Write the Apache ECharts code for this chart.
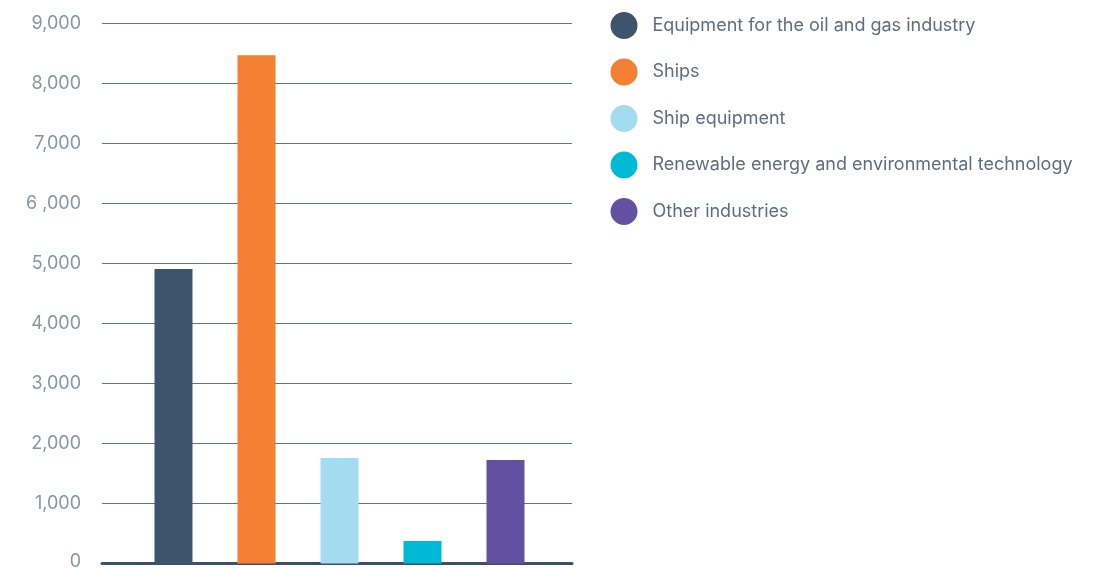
<!DOCTYPE html>
<html>
<head>
<meta charset="utf-8">
<script src="https://cdn.jsdelivr.net/npm/echarts@6/dist/echarts.min.js"></script>
<style>
  html, body { margin: 0; padding: 0; background: #fff; }
  #chart { width: 1103px; height: 568px; }
</style>
</head>
<body>
<div id="chart"></div>
<script>
const categories = [
  'Equipment for the oil and gas industry',
  'Ships',
  'Ship equipment',
  'Renewable energy and environmental technology',
  'Other industries'
];
const values = [4910, 8470, 1760, 375, 1725];
const colors = ['#3e546c', '#f58033', '#a3dbf0', '#00b9d4', '#6450a1'];
const yTicks = [0, 1000, 2000, 3000, 4000, 5000, 6000, 7000, 8000, 9000];
const yTickLabels = ['0', '1,000', '2,000', '3,000', '4,000', '5,000', '6 ,000', '7,000', '8,000', '9,000'];

const FONT = 'Inter';
const chart = echarts.init(document.getElementById('chart'));

// one series per category so that each gets its own legend entry
const series = categories.map((name, i) => ({
  name,
  type: 'bar',
  xAxisIndex: 1,
  yAxisIndex: 1,
  stack: 'all',
  barWidth: 38,
  itemStyle: { color: colors[i] },
  data: categories.map((c, j) => (j === i ? values[i] : '-'))
}));

chart.setOption({
  animation: false,
  color: colors,
  // grid 0 carries the labels, gridlines and base line; grid 1 places the bars
  grid: [
    { left: 102, width: 470, top: 23.5, bottom: 4.5, containLabel: false, outerBoundsMode: 'none' },
    { left: 132, width: 415, top: 23.5, bottom: 4.5, containLabel: false, outerBoundsMode: 'none' }
  ],
  legend: {
    orient: 'vertical',
    left: 605.5,
    top: 7,
    icon: 'circle',
    itemWidth: 27,
    itemHeight: 27,
    itemGap: 19.5,
    data: categories,
    textStyle: {
      fontFamily: FONT,
      fontSize: 18,
      color: '#5d6e82',
      padding: [0, 0, 0, 10]
    }
  },
  xAxis: [
    {
      gridIndex: 0,
      type: 'category',
      data: [''],
      axisLine: { show: true, lineStyle: { color: '#3e5068', width: 3 } },
      axisTick: { show: false },
      axisLabel: { show: false }
    },
    {
      gridIndex: 1,
      type: 'category',
      data: categories,
      axisLine: { show: false },
      axisTick: { show: false },
      axisLabel: { show: false }
    }
  ],
  yAxis: [
    {
      gridIndex: 0,
      type: 'value',
      min: 0,
      max: 9000,
      interval: 1000,
      axisLine: { show: false },
      axisTick: { show: false },
      splitLine: { lineStyle: { color: '#66737f', width: 1 } },
      axisLabel: {
        margin: 21,
        fontFamily: FONT,
        fontSize: 18,
        color: '#8796a6',
        // the bottom label sits a little higher so it stays inside the page
        formatter: v => (v === 0 ? '{z|' + yTickLabels[0] + '}' : yTickLabels[yTicks.indexOf(v)]),
        rich: {
          z: { fontFamily: FONT, fontSize: 18, color: '#8796a6', padding: [0, 0, 4, 0] }
        }
      }
    },
    {
      gridIndex: 1,
      type: 'value',
      min: 0,
      max: 9000,
      interval: 1000,
      show: false
    }
  ],
  series
});
</script>
</body>
</html>
